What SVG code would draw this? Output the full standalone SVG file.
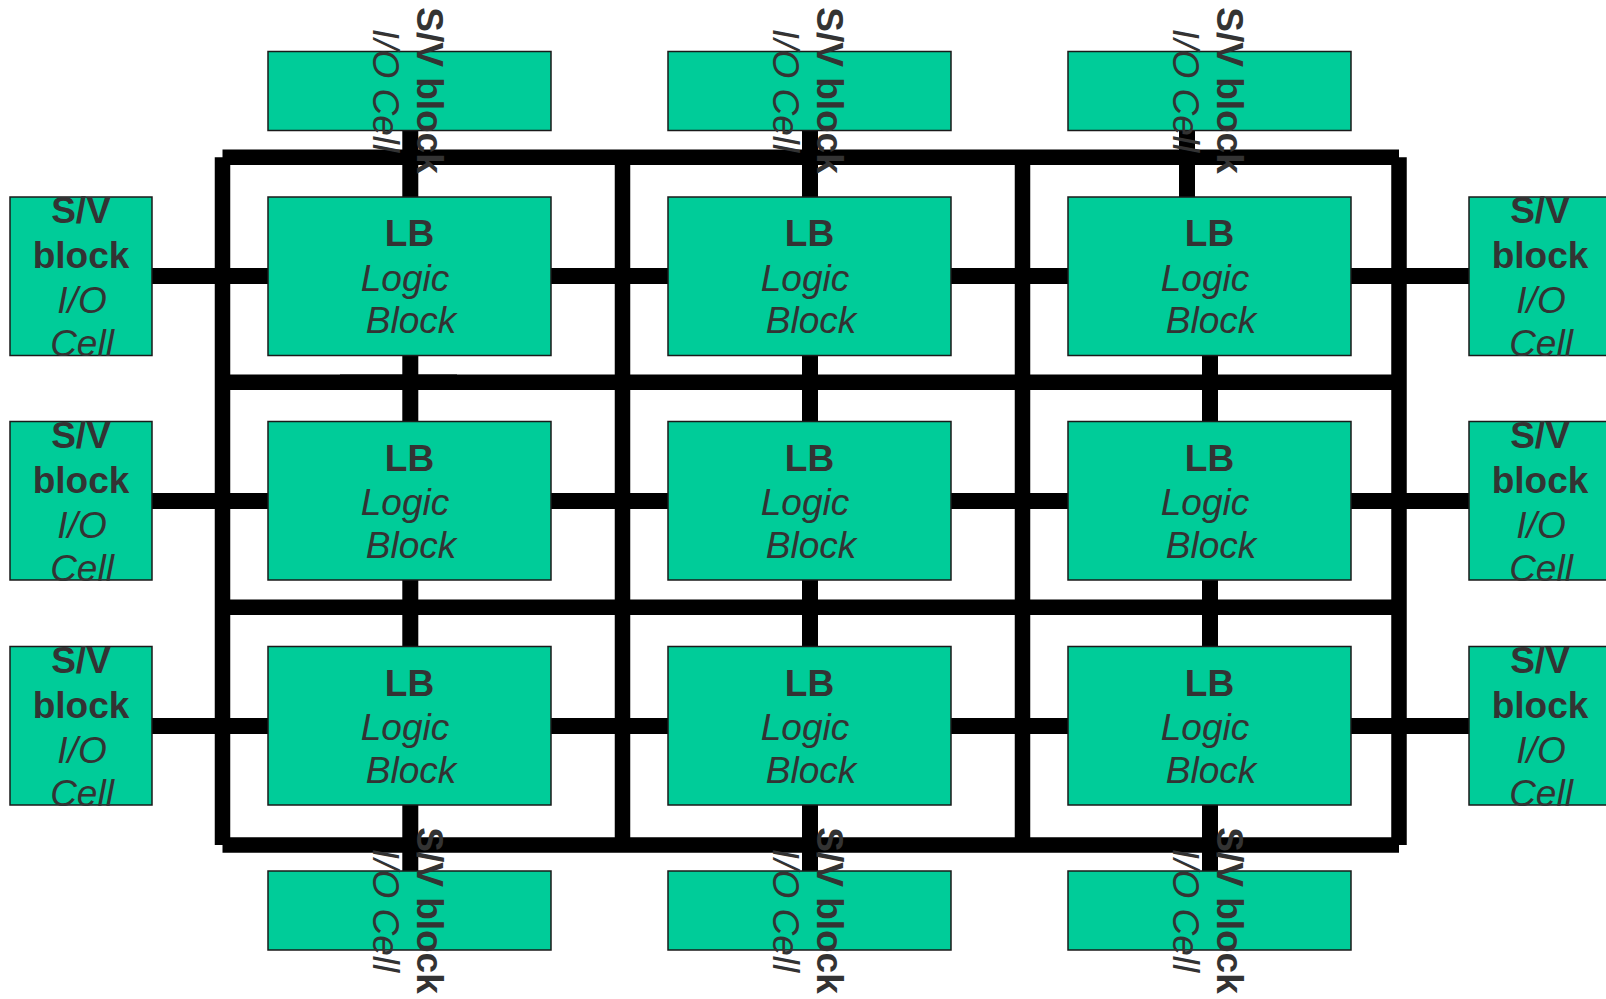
<svg xmlns="http://www.w3.org/2000/svg" width="1606" height="999" viewBox="0 0 1606 999">
<style>
.box{fill:#00CC99;stroke:#1a1a1a;stroke-width:1.5}
.bar{stroke:#000;stroke-width:15.5;fill:none;stroke-linecap:butt}
.stub{stroke:#000;stroke-width:16;fill:none;stroke-linecap:butt}
text{font-family:"Liberation Sans",Arial,sans-serif;font-size:37px;fill:#333333;text-anchor:middle}
.b{font-weight:bold}
.i{font-style:italic}
</style>
<rect width="1606" height="999" fill="#ffffff"/>
<g id="connectors">
  <line class="bar" x1="222.5" y1="157.3" x2="1399" y2="157.3"/>
  <line class="bar" x1="222.5" y1="845" x2="1399" y2="845"/>
  <line class="bar" x1="222.5" y1="157.3" x2="222.5" y2="845"/>
  <line class="bar" x1="1399" y1="157.3" x2="1399" y2="845"/>
  <line class="bar" x1="622.5" y1="157.3" x2="622.5" y2="845"/>
  <line class="bar" x1="1022.5" y1="157.3" x2="1022.5" y2="845"/>
  <line class="bar" x1="222.5" y1="382.3" x2="1399" y2="382.3"/>
  <line class="bar" x1="340" y1="382.3" x2="457" y2="382.3"/>
  <line class="bar" x1="222.5" y1="607.3" x2="1399" y2="607.3"/>
  <line class="stub" x1="152" y1="276" x2="1469" y2="276"/>
  <line class="stub" x1="152" y1="501" x2="1469" y2="501"/>
  <line class="stub" x1="152" y1="726" x2="1469" y2="726"/>
  <line class="stub" x1="410.3" y1="130" x2="410.3" y2="871"/>
  <line class="stub" x1="810" y1="130" x2="810" y2="871"/>
  <line class="stub" x1="1187" y1="130" x2="1187" y2="197"/>
  <line class="stub" x1="1210" y1="355" x2="1210" y2="871"/>
</g>

<g id="io-top-1">
  <rect class="box" x="268" y="51.5" width="283" height="79"/>
  <g transform="translate(409.5,90.5) rotate(90)"><text class="b" x="0" y="-7.5">S/V block</text><text class="i" x="0" y="36.5">I/O Cell</text></g>
</g>
<g id="io-top-2">
  <rect class="box" x="668" y="51.5" width="283" height="79"/>
  <g transform="translate(809.5,90.5) rotate(90)"><text class="b" x="0" y="-7.5">S/V block</text><text class="i" x="0" y="36.5">I/O Cell</text></g>
</g>
<g id="io-top-3">
  <rect class="box" x="1068" y="51.5" width="283" height="79"/>
  <g transform="translate(1209.5,90.5) rotate(90)"><text class="b" x="0" y="-7.5">S/V block</text><text class="i" x="0" y="36.5">I/O Cell</text></g>
</g>

<g id="io-bottom-1">
  <rect class="box" x="268" y="871" width="283" height="79"/>
  <g transform="translate(409.5,910.5) rotate(90)"><text class="b" x="0" y="-7.5">S/V block</text><text class="i" x="0" y="36.5">I/O Cell</text></g>
</g>
<g id="io-bottom-2">
  <rect class="box" x="668" y="871" width="283" height="79"/>
  <g transform="translate(809.5,910.5) rotate(90)"><text class="b" x="0" y="-7.5">S/V block</text><text class="i" x="0" y="36.5">I/O Cell</text></g>
</g>
<g id="io-bottom-3">
  <rect class="box" x="1068" y="871" width="283" height="79"/>
  <g transform="translate(1209.5,910.5) rotate(90)"><text class="b" x="0" y="-7.5">S/V block</text><text class="i" x="0" y="36.5">I/O Cell</text></g>
</g>

<g id="io-left-1">
  <rect class="box" x="10" y="197" width="142" height="158.5"/>
  <text class="b" x="81" y="223">S/V</text><text class="b" x="81" y="268">block</text><text class="i" x="82" y="313">I/O</text><text class="i" x="82" y="356">Cell</text>
</g>
<g id="io-left-2">
  <rect class="box" x="10" y="421.5" width="142" height="158.5"/>
  <text class="b" x="81" y="447.5">S/V</text><text class="b" x="81" y="492.5">block</text><text class="i" x="82" y="537.5">I/O</text><text class="i" x="82" y="580.5">Cell</text>
</g>
<g id="io-left-3">
  <rect class="box" x="10" y="646.5" width="142" height="158.5"/>
  <text class="b" x="81" y="672.5">S/V</text><text class="b" x="81" y="717.5">block</text><text class="i" x="82" y="762.5">I/O</text><text class="i" x="82" y="805.5">Cell</text>
</g>

<g id="io-right-1">
  <rect class="box" x="1469" y="197" width="142" height="158.5"/>
  <text class="b" x="1540" y="223">S/V</text><text class="b" x="1540" y="268">block</text><text class="i" x="1541" y="313">I/O</text><text class="i" x="1541" y="356">Cell</text>
</g>
<g id="io-right-2">
  <rect class="box" x="1469" y="421.5" width="142" height="158.5"/>
  <text class="b" x="1540" y="447.5">S/V</text><text class="b" x="1540" y="492.5">block</text><text class="i" x="1541" y="537.5">I/O</text><text class="i" x="1541" y="580.5">Cell</text>
</g>
<g id="io-right-3">
  <rect class="box" x="1469" y="646.5" width="142" height="158.5"/>
  <text class="b" x="1540" y="672.5">S/V</text><text class="b" x="1540" y="717.5">block</text><text class="i" x="1541" y="762.5">I/O</text><text class="i" x="1541" y="805.5">Cell</text>
</g>

<g id="lb-1-1"><rect class="box" x="268" y="197" width="283" height="158.5"/><text class="b" x="409.5" y="246">LB</text><text class="i" x="405" y="290.5">Logic</text><text class="i" x="411" y="333">Block</text></g>
<g id="lb-1-2"><rect class="box" x="668" y="197" width="283" height="158.5"/><text class="b" x="809.5" y="246">LB</text><text class="i" x="805" y="290.5">Logic</text><text class="i" x="811" y="333">Block</text></g>
<g id="lb-1-3"><rect class="box" x="1068" y="197" width="283" height="158.5"/><text class="b" x="1209.5" y="246">LB</text><text class="i" x="1205" y="290.5">Logic</text><text class="i" x="1211" y="333">Block</text></g>

<g id="lb-2-1"><rect class="box" x="268" y="421.5" width="283" height="158.5"/><text class="b" x="409.5" y="470.5">LB</text><text class="i" x="405" y="515">Logic</text><text class="i" x="411" y="557.5">Block</text></g>
<g id="lb-2-2"><rect class="box" x="668" y="421.5" width="283" height="158.5"/><text class="b" x="809.5" y="470.5">LB</text><text class="i" x="805" y="515">Logic</text><text class="i" x="811" y="557.5">Block</text></g>
<g id="lb-2-3"><rect class="box" x="1068" y="421.5" width="283" height="158.5"/><text class="b" x="1209.5" y="470.5">LB</text><text class="i" x="1205" y="515">Logic</text><text class="i" x="1211" y="557.5">Block</text></g>

<g id="lb-3-1"><rect class="box" x="268" y="646.5" width="283" height="158.5"/><text class="b" x="409.5" y="695.5">LB</text><text class="i" x="405" y="740">Logic</text><text class="i" x="411" y="782.5">Block</text></g>
<g id="lb-3-2"><rect class="box" x="668" y="646.5" width="283" height="158.5"/><text class="b" x="809.5" y="695.5">LB</text><text class="i" x="805" y="740">Logic</text><text class="i" x="811" y="782.5">Block</text></g>
<g id="lb-3-3"><rect class="box" x="1068" y="646.5" width="283" height="158.5"/><text class="b" x="1209.5" y="695.5">LB</text><text class="i" x="1205" y="740">Logic</text><text class="i" x="1211" y="782.5">Block</text></g>
</svg>
